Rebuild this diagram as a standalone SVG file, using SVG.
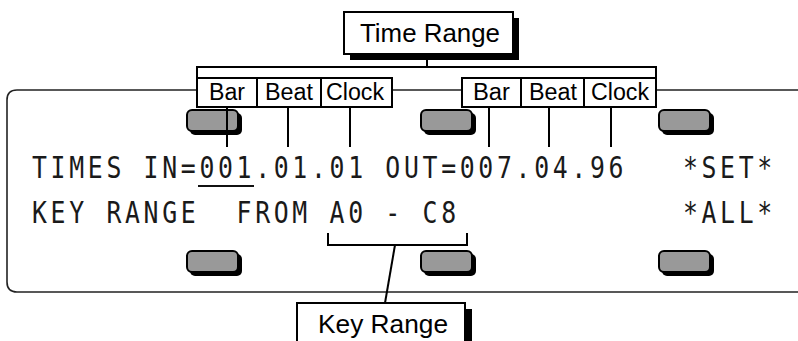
<svg xmlns="http://www.w3.org/2000/svg" width="798" height="341" viewBox="0 0 798 341">
<style>
.box{fill:#fff;stroke:#000;stroke-width:2}
.shadow{fill:#000}
.ln{stroke:#000;stroke-width:2;fill:none}
.lbl{font-family:"Liberation Sans",Arial,sans-serif;fill:#000}
.lcd{font-family:"DejaVu Sans Mono",monospace;font-size:31px;fill:#1a1a1a;white-space:pre;letter-spacing:4.59px}
.btn{fill:#999;stroke:#000;stroke-width:2}
</style>
<defs>
<g id="button">
<rect class="shadow" x="3" y="3" width="52" height="22" rx="5"/>
<rect class="btn" x="0" y="0" width="51" height="21" rx="5"/>
</g>
</defs>
<g id="panel">
<path d="M 806 90 L 17 90 Q 7 90 7 100 L 7 282 Q 7 292 17 292 L 806 292" fill="none" stroke="#222" stroke-width="1.6"/>
</g>
<g id="buttons">
<use href="#button" x="187" y="110"/>
<use href="#button" x="421" y="110"/>
<use href="#button" x="659" y="110"/>
<use href="#button" x="187" y="251"/>
<use href="#button" x="421" y="251"/>
<use href="#button" x="659" y="251"/>
</g>
<g id="lcd-text">
<g transform="scale(0.8,1)">
<text class="lcd" x="40" y="178" xml:space="preserve">TIMES IN=001.01.01 OUT=007.04.96   *SET*</text>
<text class="lcd" x="40" y="223" xml:space="preserve">KEY RANGE  FROM A0 - C8            *ALL*</text>
</g>
<line x1="198" y1="186" x2="254" y2="186" stroke="#111" stroke-width="2"/>
</g>
<g id="connectors">
<line class="ln" x1="427" y1="58" x2="427" y2="67"/>
<polyline class="ln" points="197,79 197,67 656,67 656,79"/>
<line class="ln" x1="227" y1="107" x2="227" y2="147"/>
<line class="ln" x1="288" y1="107" x2="288" y2="147"/>
<line class="ln" x1="350" y1="107" x2="350" y2="147"/>
<line class="ln" x1="489" y1="107" x2="489" y2="147"/>
<line class="ln" x1="549" y1="107" x2="549" y2="147"/>
<line class="ln" x1="611" y1="107" x2="611" y2="147"/>
<polyline class="ln" points="328,233 328,245 467,245 467,233"/>
<line class="ln" x1="395" y1="245" x2="385" y2="303"/>
</g>
<g id="time-range">
<rect class="shadow" x="350" y="18" width="169" height="42"/>
<rect class="box" x="344" y="12" width="169" height="42"/>
<text class="lbl" x="360" y="42" font-size="26" textLength="140" lengthAdjust="spacingAndGlyphs">Time Range</text>
</g>
<g id="in-fields">
<rect class="box" x="197" y="78" width="60" height="29"/>
<rect class="box" x="257" y="78" width="64" height="29"/>
<rect class="box" x="321" y="78" width="71" height="29"/>
<text class="lbl" x="209" y="100" font-size="23" textLength="36" lengthAdjust="spacingAndGlyphs">Bar</text>
<text class="lbl" x="265" y="100" font-size="23" textLength="48" lengthAdjust="spacingAndGlyphs">Beat</text>
<text class="lbl" x="326" y="100" font-size="23" textLength="58" lengthAdjust="spacingAndGlyphs">Clock</text>
</g>
<g id="out-fields">
<rect class="box" x="462" y="78" width="59" height="29"/>
<rect class="box" x="521" y="78" width="63" height="29"/>
<rect class="box" x="584" y="78" width="72" height="29"/>
<text class="lbl" x="473" y="100" font-size="23" textLength="37" lengthAdjust="spacingAndGlyphs">Bar</text>
<text class="lbl" x="529" y="100" font-size="23" textLength="48" lengthAdjust="spacingAndGlyphs">Beat</text>
<text class="lbl" x="591" y="100" font-size="23" textLength="58" lengthAdjust="spacingAndGlyphs">Clock</text>
</g>
<g id="key-range">
<rect class="shadow" x="303" y="309" width="169" height="50"/>
<rect class="box" x="297" y="303" width="168" height="50"/>
<text class="lbl" x="318" y="333" font-size="25" textLength="130" lengthAdjust="spacingAndGlyphs">Key Range</text>
</g>
</svg>
